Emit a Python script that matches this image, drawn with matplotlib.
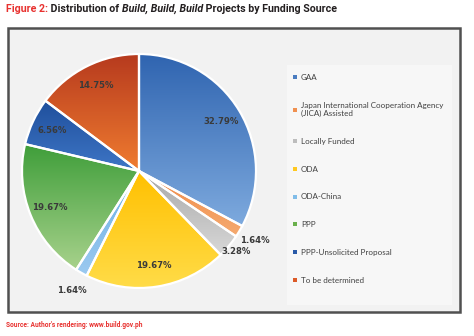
import matplotlib
matplotlib.use("Agg")
import matplotlib.pyplot as plt
import numpy as np
from matplotlib.colors import LinearSegmentedColormap
from matplotlib.lines import Line2D
from matplotlib.patches import Rectangle

categories = ["GAA", "Japan International Cooperation Agency\n(JICA) Assisted", "Locally Funded",
              "ODA", "ODA-China", "PPP", "PPP-Unsolicited Proposal", "To be determined"]
values = [32.79, 1.64, 3.28, 19.67, 1.64, 19.67, 6.56, 14.75]
label_texts = ["32.79%", "1.64%", "3.28%", "19.67%", "1.64%", "19.67%", "6.56%", "14.75%"]
top_colors = ["#2f64b0", "#f08a48", "#a8a8a8", "#ffc000", "#6aaee4", "#3f9e3a", "#1f4f9c", "#b63a1e"]
bot_colors = ["#7eaade", "#f5aa70", "#d8d8d8", "#ffdc48", "#9ccaf0", "#a8d28c", "#3e76c6", "#f07c30"]
legend_colors = ["#4a7cc0", "#f09050", "#bdbdbd", "#ffc820", "#80bce8", "#6ab04c", "#2a5aa8", "#dc5a28"]

W, H = 474, 336
fig = plt.figure(figsize=(W / 100, H / 100), dpi=100)
fig.patch.set_facecolor("white")

# panel box
fig.patches.append(Rectangle((8 / W, 1 - 312 / H), 452 / W, 284 / H, transform=fig.transFigure,
                             facecolor="#f2f2f2", edgecolor="#505050", linewidth=1.8, zorder=0))
# legend background
fig.patches.append(Rectangle((287 / W, 1 - 305 / H), 165 / W, 240 / H, transform=fig.transFigure,
                             facecolor="#f7f7f7", edgecolor="none", zorder=0.5))

cx, cy, R = 139, 171, 117
ax = fig.add_axes([(cx - R) / W, 1 - (cy + R) / H, 2 * R / W, 2 * R / H])
ax.set_zorder(3)
ax.set_facecolor("none")
wedges, _ = ax.pie(values, startangle=90, counterclock=False, colors=legend_colors,
                   wedgeprops=dict(edgecolor="white", linewidth=1.6))

for w, c1, c2 in zip(wedges, top_colors, bot_colors):
    ext = w.get_path().get_extents()
    cmap = LinearSegmentedColormap.from_list("g", [c1, c2])
    grad = np.linspace(0, 1, 256).reshape(-1, 1)
    im = ax.imshow(grad, extent=(ext.x0, ext.x1, ext.y0, ext.y1), cmap=cmap, origin="upper",
                   aspect="auto", zorder=w.get_zorder() - 0.1, interpolation="bilinear")
    im.set_clip_path(w)
    w.set_facecolor("none")

ax.set_xlim(-1, 1)
ax.set_ylim(-1, 1)
ax.set_aspect("equal")
ax.axis("off")

inside_r = 0.82
outside_r = {1: 1.16, 2: 1.08, 4: 1.17}
for i, (w, t) in enumerate(zip(wedges, label_texts)):
    mid = np.deg2rad((w.theta1 + w.theta2) / 2)
    r = outside_r.get(i, inside_r)
    ax.text(r * np.cos(mid), r * np.sin(mid), t, ha="center", va="center",
            fontsize=6.1, fontweight="bold", color="#3a3a3a", family="DejaVu Sans", zorder=5)

handles = [Line2D([], [], marker="s", linestyle="none", markersize=2.2, color=c,
                  markeredgewidth=0) for c in legend_colors]
leg = fig.legend(handles, categories, loc="upper left", bbox_to_anchor=(289 / W, 1 - 70 / H),
                 frameon=False, labelspacing=2.6, handlelength=0.6, handletextpad=0.4,
                 borderpad=0, prop=dict(family="Lato", size=5.75))
leg.set_zorder(5)
for t in leg.get_texts():
    t.set_color("#404040")

# title
fam = ["Roboto", "DejaVu Sans"]
t0 = fig.text(6 / W, 1 - 9 / H, "Figure 2:", color="#e8312f", fontsize=7.7, fontweight="bold",
              family=fam, fontstretch="condensed", va="center", ha="left")
pieces = [(" Distribution of ", "normal"), ("Build, Build, Build", "italic"),
          (" Projects by Funding Source", "normal")]
prev = t0
for s, st in pieces:
    prev = plt.annotate(s, xy=(1, 0.5), xycoords=prev, va="center", ha="left", fontsize=7.7,
                        fontweight="bold", fontstyle=st, family=fam, fontstretch="condensed",
                        color="#231f20", annotation_clip=False)

fig.text(6 / W, 1 - 325 / H, "Source: Author's rendering: www.build.gov.ph", color="#e8312f",
         fontsize=4.8, fontweight="bold", family=fam, va="center", ha="left")

fig.savefig("out.png", dpi=100)
